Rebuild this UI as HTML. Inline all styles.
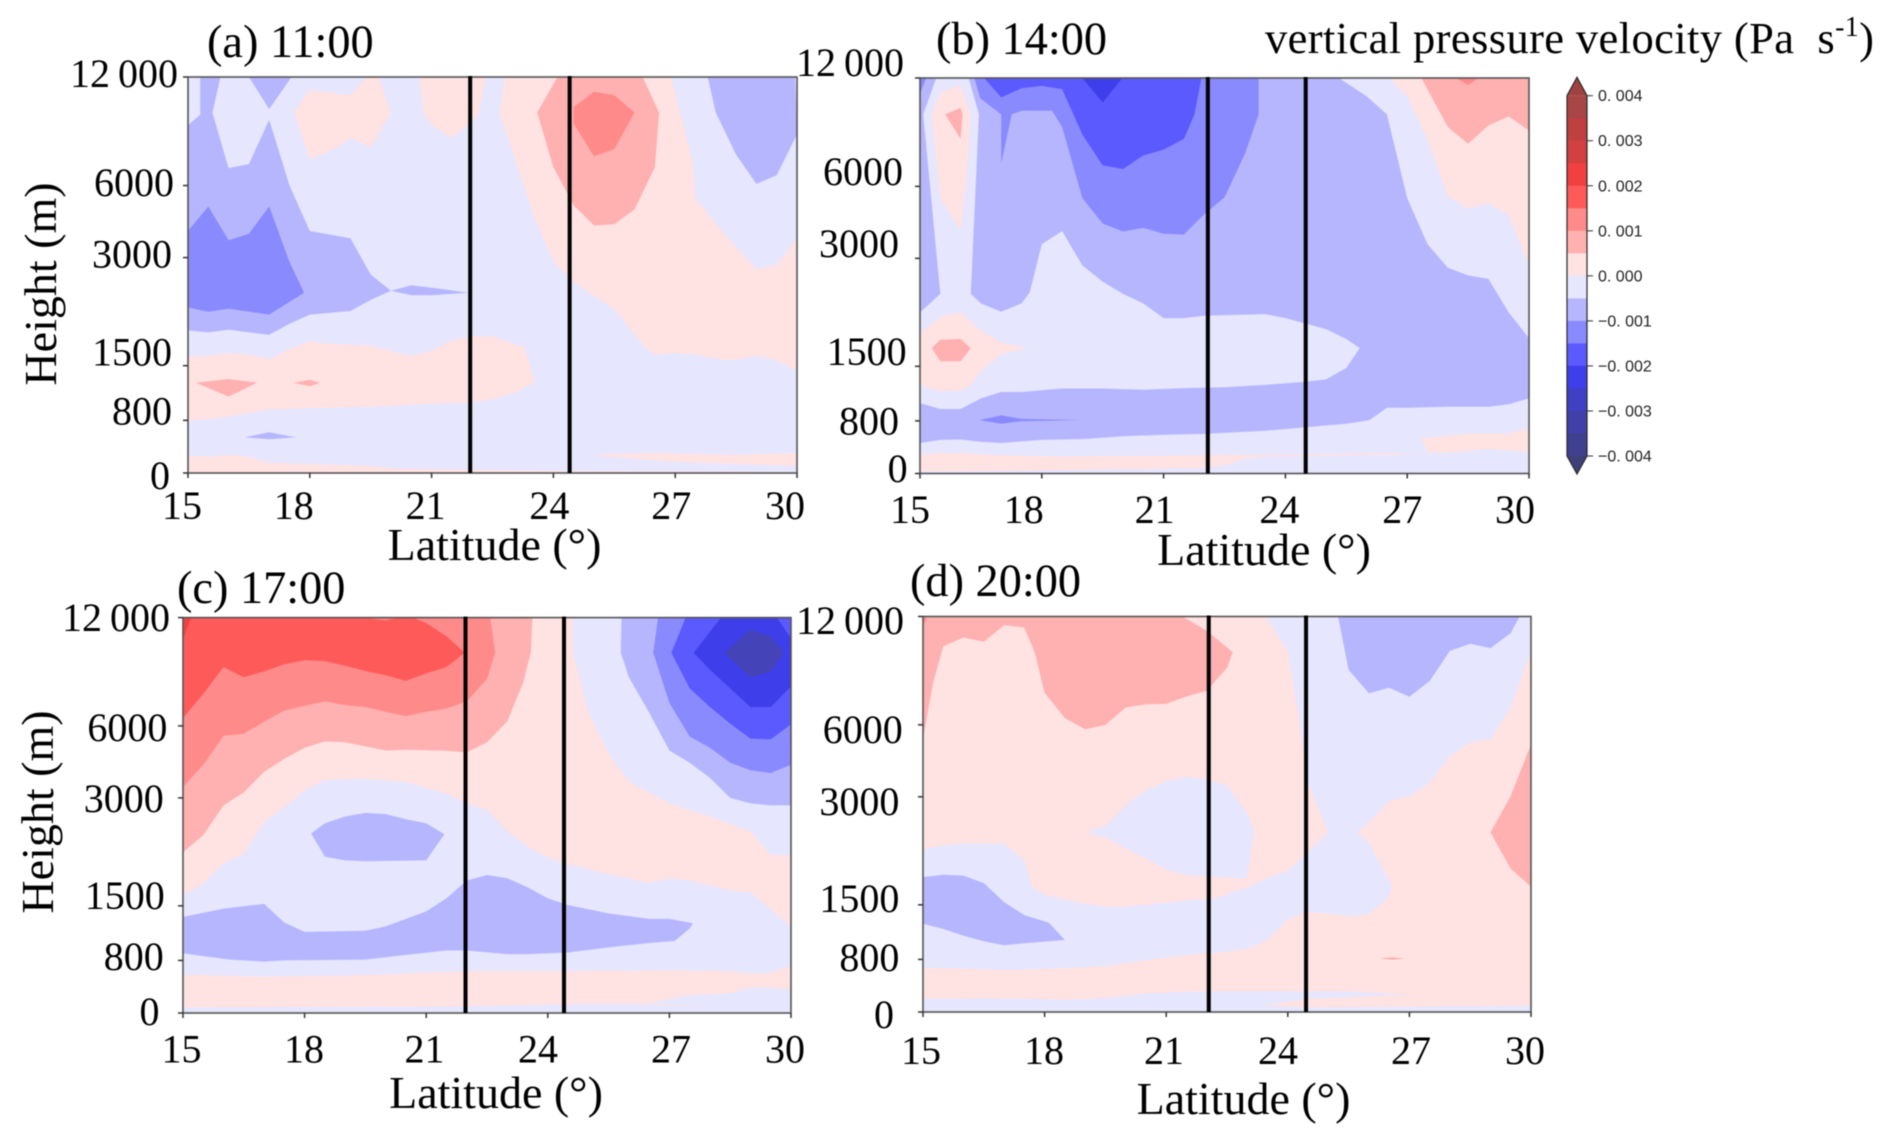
<!DOCTYPE html>
<html lang="en">
<head>
<meta charset="utf-8">
<title>Vertical pressure velocity cross sections</title>
<style>
html,body{margin:0;padding:0;background:#fff;}
svg{display:block;filter:blur(.45px);}
text{font-family:"Liberation Serif","Times New Roman",serif;fill:#000;}
.cb{font-family:"Liberation Sans",Arial,sans-serif;font-size:16px;fill:#222;}
.tick{font-size:40px;}
.title{font-size:46.3px;}
.axt{font-size:46px;}
.unit{font-size:44.5px;}
</style>
</head>
<body>
<svg id="fig" xmlns="http://www.w3.org/2000/svg" width="1892" height="1143" viewBox="0 0 1892 1143">
  <rect width="1892" height="1143" fill="#ffffff"/>
  <g id="plots"></g>
  <g id="colorbar"></g>
  <text class="title" x="207" y="57">(a) 11:00</text>
  <text class="title" x="936" y="54">(b) 14:00</text>
  <text class="title" x="177" y="603">(c) 17:00</text>
  <text class="title" x="910" y="596">(d) 20:00</text>
  <text class="unit" x="1265" y="53" textLength="609">vertical pressure velocity (Pa&#160;&#160;s<tspan dy="-17" font-size="28">-1</tspan><tspan dy="17">)</tspan></text>
  <text class="axt" x="494.5" y="560" text-anchor="middle">Latitude (°)</text>
  <text class="axt" x="1264" y="565" text-anchor="middle">Latitude (°)</text>
  <text class="axt" x="496" y="1108" text-anchor="middle">Latitude (°)</text>
  <text class="axt" x="1243.5" y="1114" text-anchor="middle">Latitude (°)</text>
  <text class="axt" transform="translate(56,284) rotate(-90)" text-anchor="middle">Height (m)</text>
  <text class="axt" transform="translate(53,812) rotate(-90)" text-anchor="middle">Height (m)</text>
</svg>
<script>
// ---- axis values ----
const latTicks = [15,18,21,24,27,30];
const heightLabels = ['0','800','1500','3000','6000','12\u2009000'];
const heightLevels = [0,13.3,27.1,54.4,72.6,100]; // vertical coordinate (model level, 0-100)

// ---- colour bar values ----
const cbTicks = [0.004,0.003,0.002,0.001,0,-0.001,-0.002,-0.003,-0.004];
const cbLabels = ['0. 004','0. 003','0. 002','0. 001','0. 000','\u22120. 001','\u22120. 002','\u22120. 003','\u22120. 004'];
const cbBandTop = [0.004,0.0035,0.003,0.0025,0.002,0.0015,0.001,0.0005,0,-0.0005,-0.001,-0.0015,-0.002,-0.0025,-0.003,-0.0035];
const cbBandColor = ['#a84646','#c04040','#d24040','#f24040','#ff5a5a','#ff8a8a','#ffb0b0','#ffe3e3','#e6e6ff','#b6b6ff','#8a8aff','#5a5aff','#3e3eea','#4040c4','#4040a8','#404090'];

// contour band colours
const bands = {p1:'#ffe2e2',p2:'#ffb0b0',p3:'#ff8a8a',p4:'#ff5a5a',p5:'#f54040',b1:'#e6e6ff',b2:'#b6b6ff',b3:'#8a8aff',b4:'#5a5aff',b5:'#3e3eea',b6:'#4444b8'};

// ---- contour outlines, flat pairs: latitude, level ----
// Panel (a) 11:00
const aPinkBlobTop = [17.6,91,18,96.8,19,95.4,19.4,100,19.7,100,20,91,19.5,82.3,19,84.6,18.5,81.3,18,79.3];
const aPinkTopMid = [20.7,100,20.8,91,21,87.8,21.5,84.6,22,88.7,22.15,90.5,22.35,100];
const aPinkRight = [22.8,100,22.67,91,23,80.9,23.5,65.3,24,53.3,24.5,48.3,25,44.6,25.5,41.4,26,34.9,26.3,31.3,26.5,29.9,27,30.3,27.5,29.9,28,28.7,28.5,28.5,29,29.6,29.5,28.5,30,25.7,30,59.3,29.5,52.6,29,51.5,28.5,57,28,63,27.5,69.4,27.44,78.1,26.9,100];
const aRedCore = [23.6,91,24,77.2,24.5,67.6,25,62.5,25.5,62.8,26,66.6,26.5,77.2,26.6,91,26.2,100,24.1,100];
const aRedPeak = [24.5,92.4,25,96.3,25.5,95.4,26,91,25.5,81.8,25,80,24.5,88.2];
const aPinkLow = [15,29.6,15.5,29.6,16,30.3,16.5,29.9,17,28.7,17.5,31.3,18,33.3,18.5,32.6,19.5,32.2,20,30.8,20.5,29.6,21,30.8,21.5,33.5,22,34.5,22.5,34.5,23.29,31.7,23.55,23,23,20,22.5,18.6,22,17.9,21,17.5,19.5,16.7,18,16.4,17,16.1,16,14.2,15,13.1];
const aRedSpotA = [15.2,22.8,16,23.7,16.7,22.8,16,19.3];
const aRedSpotB = [17.6,22.8,18,23.5,18.25,22.8,18,21.9];
const aPinkBottom = [15,4.4,15.5,4.1,16,4.6,16.5,4.1,17,2.6,18,2.3,19.5,1.8,20,1.1,21,.9,24.5,.5,30,.3,30,0,15,0];
const aPinkBottomRight = [24.9,4.6,26.5,5.05,28.4,4.6,30,5.05,30,1.8,28.4,2.3,27,2.8,25,4.4];
const aBlueLeft = [15,87.8,15.3,90.5,15.3,100,15.8,100,15.6,91,16,77,16.5,78,17,89.2,17.5,72.6,18,61.1,18.5,60.2,19,59.3,19.5,50.1,20,46,19.5,43.7,19,40.9,18,40,17.5,37.7,17,34.9,16.5,35.5,16,36.2,15.5,35.5,15,36];
const aBlueTopSpike = [16.5,100,17.55,100,17,91.9];
const aBlueTopRight = [27.8,100,29.95,100,30,85.5,29.5,75.2,29,73,28.5,80.4,28,91];
const aBlueSliver = [20,46,20.5,47.4,21.3,46.4,21.9,45.5,21,44.9,20.5,44.9];
const aBlueLowSpot = [16.4,9,17,10.3,17.65,9,17,8.5];
const aDeepBlue = [15,61.1,15.5,67.3,16,58.8,16.5,60.4,17,67.3,17.5,53.3,17.86,45.5,17,40,16,41.5,15.5,40.7,15,41.8];

// Panel (b) 14:00
const bLightUpper = [15,40.7,15.5,45.4,15.08,90.8,15.4,100,16.2,100,16.45,90.8,16.25,45.4,16.5,43,17,40.9,17.5,43,17.7,45.7,18,58,18.5,61.3,19,52.6,19.5,48.5,20,45.4,20.5,43,21,39.3,21.5,39.3,22,39.9,23.5,40.3,24,39.3,24.5,37.9,25,36.5,25.5,34,25.83,31.7,25.5,26.7,25,23.8,24.5,23.2,23.5,22.4,22.5,21.8,21.5,21.6,20.5,21.2,19.5,21.5,18.5,21.5,17.5,20.6,17,20.6,16.5,19,16,16.3,15.5,16.3,15,17.8];
const bLightLower = [15,7.7,15.5,8.5,16,8.6,16.5,8,17,7.7,18,8.5,19,8.7,20,9.4,21,9.8,22,10,23.5,10.8,24.5,11.7,25.5,12.6,26.07,13.5,26.5,16.6,27,16.6,28,16.9,29,16.9,29.5,17.5,30,19,30,0,15,0];
const bLightTopRight = [25.32,100,26,95.4,26.5,90.8,27,69.6,27.5,58,28,52,28.5,50.1,29,49.2,29.5,40.7,30,34.2,30,100];
const bPinkBottom = [15,4.8,15.5,5.2,16,5.2,17,4.6,18.5,4.3,22,4.6,24.5,4.8,26.5,5.2,27.27,4.8,24.5,4.4,23.5,4.3,23,3.7,22.5,2,22,1.4,20.5,1.1,16.5,.6,15,.5];
const bPinkBottomRight = [27.35,8.9,28.5,10.1,29.5,10.1,30,11.4,30,5.4,29,6.2,28,5.2,27.5,5.2];
const bPinkLeft = [15,35.6,15.5,39.6,16,40.8,16.5,36.1,17,33.1,17.63,31.7,17,30.1,16.5,25.9,16.25,22.3,16,20.9,15.5,20.7,15,22.4];
const bRedLeft = [15.29,31.7,15.5,33.8,16,34,16.25,31.7,16,28.4,15.5,28.4];
const bPinkColumn = [15.29,90.8,15.5,96.3,16,98.2,16.25,90.8,16.16,76.5,16,61.4,15.5,69.6,15.36,83];
const bRedColumn = [15.62,90.8,16,92.5,16.05,90.8,16,84.6];
const bPinkTopRight = [26.55,100,27,95.4,27.5,84.4,28,70.1,28.5,66.9,29,68.4,29.5,65.2,30,52.6,30,100];
const bRedTopRight = [27.35,100,28,87.6,28.5,83.4,29,88,29.5,90.3,30,86.7,30,100];
const bRedTip = [28.2,100,28.75,100,28.5,98.2];
const bBlueTop = [16.34,100,16.48,94.9,17,90.8,17,78.4,17.26,90.8,17.5,91.7,18.25,91.7,18.5,87.6,19,69.6,19.5,63.2,20,61.2,20.5,62.1,21,60.6,21.5,60.4,22,65.5,22.5,69.8,23,80.7,23.34,90.8,23.34,100];
const bBlueCorner = [15,100,15.15,100,15,95.9];
const bDeepTop = [16.58,100,17,95.1,17.5,97.4,18,98,18.5,97.2,19,85.7,19.5,77.9,20,77,20.5,80.4,21,81.9,21.5,84.6,21.76,90.8,21.93,100];
const bDarkTip = [19,100,19.98,100,19.5,93.8];
const bBlueSliver = [16.46,13.5,17,14.7,17.5,13.8,19,13.5,17.5,13.2,17,12.6];

// Panel (c) 17:00
const cPinkUpper = [15,29.9,15.5,32.7,16,37.9,16.5,40.3,17,48.3,17.5,52,18,56.3,18.5,58.9,19.5,59.3,20.5,58.4,21.5,55.5,22,53,22.5,51.4,23,45.9,23.5,42.1,24,39.3,24.5,37.6,25.5,35.1,26.5,32.9,27,34.1,27.5,33.5,28.5,30.9,29,30.4,29.5,26.2,30,21.9,30,39.8,29.5,40,29,45.9,28,49.7,27,53,26,58.6,25.5,65.7,25,76,24.62,91.1,24.62,100,15,100];
const cPinkBottom = [15,9.7,17,9.2,19,9.4,22,10.6,24.5,10.6,27,10.8,28.5,10.6,29,10,29.5,10.2,30,11.9,30,5.9,29.5,6.4,29,6.4,28.5,5,27.5,4.5,26.5,2.6,28.05,1.4,26.5,2.2,24.5,2.2,22,1.7,15,1.4];
const cBlueBand = [15,24.3,16,26.4,17,27.6,17.5,22.9,18,20.5,19.5,20.8,20,21.9,21,25.7,21.5,29,22,33.5,22.5,34.9,23,34.1,23.5,31.8,24,29,24.5,27.3,25.5,25.2,26.5,23.8,27,23.8,27.58,22.7,27.5,21.4,27.13,18.2,26.5,17.7,25.5,16.6,24.5,15.3,23.5,14.9,23,14.9,22,15.8,21.5,15.8,20.5,14.7,19.5,13.5,17.5,13.3,17,13,16.16,13.5,15.5,14.4,15,15.1];
const cBlueBlob = [18.16,45.4,18.5,48,19,49.7,19.5,50.6,20,50.3,20.5,49,21,48,21.45,45.2,21,38.6,19.5,38.4,19,38.6,18.5,39.5];
const cRedOne = [15,40.7,15.5,45,16,52.5,16.5,55.8,17,61,17.5,64.3,18,67.1,18.5,68.7,19,68.5,20,66.4,20.5,66.6,21.5,66.3,22,65.9,22.5,68.5,23,73.8,23.39,83.5,23.58,91.1,23.62,100,15,100];
const cRedTwo = [15,57.2,15.5,62.8,16,70.1,16.5,70.6,17,73.7,17.5,76.5,18,77.7,18.5,78.8,19,77.9,19.5,77.4,20,76.2,20.5,75.1,21,76.2,21.5,77,22,78.8,22.5,84.5,22.7,91.1,22.58,100,15,100];
const cRedThree = [15,74.6,15.5,80.7,16,87.5,16.5,84.9,17,86.4,17.5,88.2,18,89.2,18.5,89,19,87.8,19.5,86.5,20,85.4,20.5,84,21,85.9,21.5,87.5,21.95,91.1,21.5,95.3,21,98.6,20.68,100,20.3,100,20,99.3,19.45,100,15,100];
const cRedCorner = [15,100,15.2,100,15,94.5];
const cBlueOne = [25.82,100,25.8,91.1,26,84.9,26.5,76,27,66.4,27.5,63.3,28,59.5,28.5,54.4,29,53,29.5,52.5,30,52.5,30,100];
const cBlueTwo = [26.72,100,26.6,91.1,27,78.4,27.5,69.9,28,67.1,28.5,63.3,29,61.4,29.5,60.7,30,62.8,30,100];
const cBlueThree = [27.4,100,27.05,91.1,27.5,82.1,28,77.4,28.5,73.2,29,69.4,29.5,69.2,30,73,30,100];
const cBlueFour = [28.27,100,27.6,91.1,28,86.8,28.5,82.1,29,77.4,29.5,77.4,30,82.6,30,94.8,29.65,100];
const cBlueCore = [29,96.9,29.5,95.3,29.82,91.1,29.5,86.4,29,84.8,28.35,91.1];

// Panel (d) 20:00
const dLightBig = [23.45,100,24,91.3,24.28,73.8,24.5,57.9,25,45.4,24.5,40.5,24,35.7,23.5,33.9,23,31.5,22.25,28.9,22,28.5,21.5,28.2,20,26.6,19.5,26.6,19,27.3,18,29.6,17.7,31.5,17.5,38.3,17,42.5,16,42.6,15.5,42.1,15,41.1,15,11.1,16,11,17.1,10.6,18.5,11.1,19.5,11.6,21,13.8,22,14.8,22.5,15.3,23,16,23.5,18.2,24,23.5,24.5,25.4,25.5,24.3,26,24.7,26.5,29.2,26.57,32,26,42.8,25.72,45.4,26,48,26.5,53.4,27,54.6,27.5,58.1,28,64.7,28.5,68.2,29,69,29.5,77.1,30,91.3,30,100];
const dLightBlob = [19,45.4,19.5,47,20,52.2,20.5,56,21,58.3,21.5,59.5,22,58.8,22.5,57.2,23,50.3,23.17,45.4,22.98,33.7,21.5,34.6,21,36,20.5,38.9,20,41.4,19.5,44.2];
const dLightBottom = [15,3.3,16.5,3.5,18.5,3.1,19.5,3.5,20.5,4.7,22,5.2,25.5,5.2,27.05,4.4,26,4,24.5,3.3,23.4,1.7,24.5,1.1,27,1.4,30,1.6,30,0,15,0];
const dBlueLeft = [15,34.1,15.5,34.7,16,34.5,16.5,32.6,17,27.8,17.5,24.5,18.1,22.6,18.5,18.2,17.5,17.4,17,16.9,16.5,17.9,16,19.3,15.5,21,15,22.3];
const dBlueTopRight = [25.24,100,25.5,86.5,26,80.6,26.5,82,27,79.7,27.5,83.7,28,91.3,28.5,93.1,29,92,29.5,95.8,29.72,100];
const dRedTopLeft = [15,69.1,15.25,83.3,15.5,92.5,16,94.7,16.5,93.6,17,97.8,17.5,97.2,17.76,90.8,18,80.7,18.5,74.3,19,71.5,19.5,72.6,20,77,20.5,77.8,21,77.9,21.5,79.8,22,81.2,22.5,87,22.64,91,22,96.4,21.4,100,15,100];
const dRedCorner = [15,100,15.1,100,15,97.4];
const dRedRight = [30,67.7,29.5,54.6,29,45.4,29.5,36.2,30,31.7];
const dRedSpeck = [26.28,13.6,26.6,13.8,26.89,13.5,26.55,13.2];

// marker latitudes for the two black lines
const aLineLats = [21.95,24.4];
const bLineLats = [22.09,24.5];
const cLineLats = [21.97,24.4];
const dLineLats = [22.05,24.45];

// ---- painting order for each panel ----
const aLayers = [['p1',aPinkBlobTop],['p1',aPinkTopMid],['p1',aPinkRight],['p2',aRedCore],['p3',aRedPeak],['p1',aPinkLow],['p2',aRedSpotA],['p2',aRedSpotB],['p1',aPinkBottom],['p1',aPinkBottomRight],['b2',aBlueLeft],['b2',aBlueTopSpike],['b2',aBlueTopRight],['b2',aBlueSliver],['b2',aBlueLowSpot],['b3',aDeepBlue]];
const bLayers = [['b1',bLightUpper],['b1',bLightLower],['b1',bLightTopRight],['p1',bPinkBottom],['p1',bPinkBottomRight],['p1',bPinkLeft],['p2',bRedLeft],['p1',bPinkColumn],['p2',bRedColumn],['p1',bPinkTopRight],['p2',bRedTopRight],['p3',bRedTip],['b3',bBlueTop],['b3',bBlueCorner],['b4',bDeepTop],['b5',bDarkTip],['b3',bBlueSliver]];
const cLayers = [['p1',cPinkUpper],['p1',cPinkBottom],['b2',cBlueBand],['b2',cBlueBlob],['p2',cRedOne],['p3',cRedTwo],['p4',cRedThree],['p5',cRedCorner],['b2',cBlueOne],['b3',cBlueTwo],['b4',cBlueThree],['b5',cBlueFour],['b6',cBlueCore]];
const dLayers = [['b1',dLightBig],['b1',dLightBlob],['b1',dLightBottom],['b2',dBlueLeft],['b2',dBlueTopRight],['p2',dRedTopLeft],['p3',dRedCorner],['p2',dRedRight],['p2',dRedSpeck]];

// ---- panel layout (geometry and label nudges, no data) ----
const panels = [
 {id:'a',x0:188,x1:797,y0:473,y1:77,base:'b1',layers:aLayers,lines:aLineLats,
  xNudge:[-6,-16,-6,-4,-4,-12],xDrop:46,yRight:[-18,-16,-16,-16,-14,-10],yDrop:[16,4,0,10,10.5,10]},
 {id:'b',x0:920,x1:1529,y0:473.5,y1:78,base:'b2',layers:bLayers,lines:bLineLats,
  xNudge:[-10,-18,-9,-6,-5,-14],xDrop:49.5,yRight:[-12.4,-21,-13.4,-21,-17,-16],yDrop:[8.5,13.6,-1.3,-1.3,-1.4,-2]},
 {id:'c',x0:183,x1:791,y0:1013,y1:617.6,base:'b1',layers:cLayers,lines:cLineLats,
  xNudge:[-1.5,-.6,-1.7,-9.8,1.6,-6],xDrop:49.6,yRight:[-23.5,-19.3,-18.3,-19.3,-15.6,-13],yDrop:[12,9.6,3.2,14.1,15.1,13.4]},
 {id:'d',x0:923,x1:1531,y0:1012,y1:616.5,base:'p1',layers:dLayers,lines:dLineLats,
  xNudge:[-2,-.6,-2.2,-9.8,1.6,-6],xDrop:52,yRight:[-29,-23.6,-23.6,-23.6,-20.2,-19],yDrop:[16,11.6,7.2,18.2,18.1,17.5]}
];

const NS = 'http://www.w3.org/2000/svg';
function mk(tag, attrs, parent){
  const el = document.createElementNS(NS, tag);
  for (const k in attrs) el.setAttribute(k, attrs[k]);
  parent.appendChild(el);
  return el;
}

const plots = document.getElementById('plots');
panels.forEach(function(p){
  const xScale = function(lat){ return p.x0 + (lat - 15) / 15 * (p.x1 - p.x0); };
  const yScale = function(lvl){ return p.y0 + lvl / 100 * (p.y1 - p.y0); };
  const g = mk('g', {}, plots);
  
  

  const bg = mk('rect', {x:p.x0, y:p.y1, width:p.x1-p.x0, height:p.y0-p.y1, fill:bands[p.base]}, g);
  
  

  p.layers.forEach(function(layer, i){
    const pts = [];
    for (let k = 0; k < layer[1].length; k += 2) {
      pts.push(xScale(layer[1][k]).toFixed(1) + ',' + yScale(layer[1][k+1]).toFixed(1));
    }
    const poly = mk('polygon', {points:pts.join(' '), fill:bands[layer[0]]}, g);
    
    
  });

  const frame = mk('rect', {x:p.x0, y:p.y1, width:p.x1-p.x0, height:p.y0-p.y1, fill:'none', stroke:'#555', 'stroke-width':1.6}, g);
  
  

  latTicks.forEach(function(t, i){
    const x = xScale(t);
    const tk = mk('line', {x1:x, x2:x, y1:p.y0, y2:p.y0+5, stroke:'#333', 'stroke-width':1.5}, g);
    
    
    const lb = mk('text', {class:'tick', x:x+p.xNudge[i], y:p.y0+p.xDrop, 'text-anchor':'middle'}, g);
    lb.textContent = String(t);
    
    
  });

  heightLevels.forEach(function(l, i){
    const y = yScale(l);
    const tk = mk('line', {x1:p.x0-5, x2:p.x0, y1:y, y2:y, stroke:'#333', 'stroke-width':1.5}, g);
    
    
    const lb = mk('text', {class:'tick', x:p.x0+p.yRight[i], y:y+p.yDrop[i], 'text-anchor':'end'}, g);
    lb.textContent = heightLabels[i];
    
    
  });

  p.lines.forEach(function(lat){
    const x = xScale(lat);
    const ln = mk('line', {x1:x, x2:x, y1:p.y1-1, y2:p.y0, stroke:'#000', 'stroke-width':4}, g);
    
    
  });
});

// ---- colour bar ----
const cbG = document.getElementById('colorbar');
const cbX0 = 1567, cbX1 = 1587, cbTopY = 95.7, cbBottomY = 456;
const cbY = function(v){ return cbTopY + (0.004 - v) / 0.008 * (cbBottomY - cbTopY); };
const cbStep = 0.0005;
cbBandTop.forEach(function(v, i){
  const r = mk('rect', {x:cbX0, y:cbY(v), width:cbX1-cbX0, height:cbY(v-cbStep)-cbY(v)+.5, fill:cbBandColor[i]}, cbG);
  
  
});
const cbTopArrow = mk('polygon', {points:cbX0+','+cbTopY+' '+cbX1+','+cbTopY+' '+(cbX0+cbX1)/2+','+(cbTopY-18.5), fill:'#a04242'}, cbG);


const cbBottomArrow = mk('polygon', {points:cbX0+','+cbBottomY+' '+cbX1+','+cbBottomY+' '+(cbX0+cbX1)/2+','+(cbBottomY+18), fill:'#404078'}, cbG);


const cbOutline = mk('polygon', {points:cbX0+','+cbTopY+' '+(cbX0+cbX1)/2+','+(cbTopY-18.5)+' '+cbX1+','+cbTopY+' '+cbX1+','+cbBottomY+' '+(cbX0+cbX1)/2+','+(cbBottomY+18)+' '+cbX0+','+cbBottomY, fill:'none', stroke:'#2a2a2a', 'stroke-width':1.2}, cbG);


cbTicks.forEach(function(v, i){
  const y = cbY(v);
  const tk = mk('line', {x1:cbX1, x2:cbX1+6, y1:y, y2:y, stroke:'#333', 'stroke-width':1}, cbG);
  
  
  const lb = mk('text', {class:'cb', x:1598, y:y+5.5}, cbG);
  lb.textContent = cbLabels[i];
  
  
});
</script>
</body>
</html>
